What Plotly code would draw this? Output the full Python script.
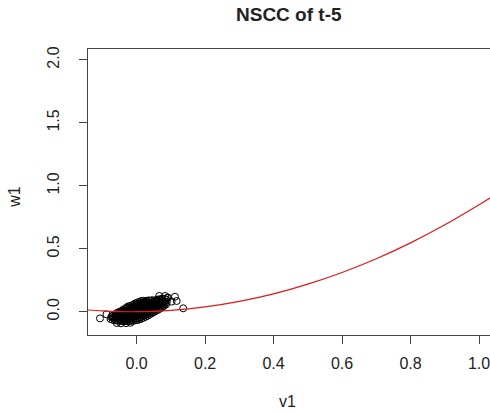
import plotly.graph_objects as go

# scatter data
v1 = [
    -0.076, -0.074,
    -0.070, -0.068, -0.069,
    -0.064, -0.062, -0.063, -0.061,
    -0.058, -0.056, -0.057, -0.055, -0.058,
    -0.052, -0.050, -0.051, -0.049, -0.052, -0.050,
    -0.046, -0.044, -0.045, -0.043, -0.046, -0.044,
    -0.040, -0.038, -0.039, -0.037, -0.040, -0.038, -0.039,
    -0.034, -0.032, -0.033, -0.031, -0.034, -0.032, -0.033, -0.031,
    -0.028, -0.026, -0.027, -0.025, -0.028, -0.026, -0.027, -0.025,
    -0.022, -0.020, -0.021, -0.019, -0.022, -0.020, -0.021, -0.019,
    -0.016, -0.014, -0.015, -0.013, -0.016, -0.014, -0.015, -0.013,
    -0.010, -0.008, -0.009, -0.007, -0.010, -0.008, -0.009, -0.007,
    -0.004, -0.002, -0.003, -0.001, -0.004, -0.002, -0.003, -0.001, -0.004,
    0.002, 0.004, 0.003, 0.005, 0.002, 0.004, 0.003, 0.005, 0.002,
    0.008, 0.010, 0.009, 0.011, 0.008, 0.010, 0.009, 0.011, 0.008,
    0.014, 0.016, 0.015, 0.017, 0.014, 0.016, 0.015, 0.017, 0.014,
    0.020, 0.022, 0.021, 0.023, 0.020, 0.022, 0.021, 0.023, 0.020,
    0.026, 0.028, 0.027, 0.029, 0.026, 0.028, 0.027, 0.029,
    0.032, 0.034, 0.033, 0.035, 0.032, 0.034, 0.033, 0.035,
    0.038, 0.040, 0.039, 0.041, 0.038, 0.040, 0.039,
    0.044, 0.046, 0.045, 0.047, 0.044, 0.046, 0.045,
    0.050, 0.052, 0.051, 0.053, 0.050, 0.052,
    0.056, 0.058, 0.057, 0.059, 0.056, 0.058,
    0.062, 0.064, 0.063, 0.065, 0.062, 0.064,
    0.068, 0.070, 0.069, 0.071, 0.068,
    0.074, 0.076, 0.075, 0.077, 0.074,
    0.080, 0.082, 0.081, 0.083,
    0.086, 0.088, 0.087, 0.089,
    -0.107, -0.088, -0.058, -0.046, -0.031, -0.018, 0.066, 0.083, 0.092,
    0.102, 0.112, 0.117, 0.136, 0.073,
]
w1 = [
    -0.058, -0.040,
    -0.064, -0.047, -0.030,
    -0.068, -0.052, -0.036, -0.022,
    -0.070, -0.055, -0.040, -0.024, -0.010,
    -0.072, -0.057, -0.041, -0.026, -0.011, 0.000,
    -0.073, -0.058, -0.043, -0.028, -0.012, 0.004,
    -0.074, -0.058, -0.042, -0.026, -0.010, 0.006, 0.017,
    -0.075, -0.060, -0.044, -0.028, -0.012, 0.004, 0.020, 0.030,
    -0.075, -0.058, -0.041, -0.024, -0.007, 0.010, 0.027, 0.042,
    -0.074, -0.057, -0.040, -0.023, -0.006, 0.011, 0.028, 0.046,
    -0.073, -0.056, -0.038, -0.020, -0.002, 0.016, 0.034, 0.052,
    -0.072, -0.054, -0.036, -0.018, 0.000, 0.018, 0.036, 0.058,
    -0.069, -0.051, -0.033, -0.015, 0.003, 0.021, 0.039, 0.057, 0.066,
    -0.066, -0.048, -0.030, -0.012, 0.006, 0.024, 0.042, 0.060, 0.072,
    -0.061, -0.043, -0.025, -0.007, 0.011, 0.029, 0.047, 0.065, 0.079,
    -0.056, -0.038, -0.020, -0.002, 0.016, 0.034, 0.052, 0.070, 0.085,
    -0.048, -0.030, -0.012, 0.006, 0.024, 0.042, 0.060, 0.078, 0.087,
    -0.040, -0.022, -0.004, 0.014, 0.032, 0.050, 0.068, 0.086,
    -0.032, -0.014, 0.004, 0.022, 0.040, 0.058, 0.076, 0.090,
    -0.022, -0.004, 0.014, 0.032, 0.050, 0.068, 0.086,
    -0.013, 0.005, 0.023, 0.041, 0.059, 0.077, 0.092,
    -0.003, 0.015, 0.033, 0.051, 0.069, 0.087,
    0.006, 0.024, 0.042, 0.060, 0.078, 0.094,
    0.014, 0.032, 0.050, 0.068, 0.086, 0.098,
    0.024, 0.042, 0.060, 0.078, 0.096,
    0.034, 0.052, 0.070, 0.088, 0.104,
    0.046, 0.064, 0.082, 0.100,
    0.058, 0.076, 0.094, 0.110,
    -0.053, -0.021, -0.090, -0.092, -0.091, -0.088, 0.125, 0.125, 0.112,
    0.080, 0.119, 0.085, 0.027, 0.090,
]

# red fitted curve
curve_x = [-0.15, -0.10, -0.05, 0.0, 0.1, 0.2, 0.3, 0.4, 0.5, 0.6, 0.7, 0.8, 0.9, 1.0, 1.05]
curve_y = [0.015, 0.006, 0.001, 0.0, 0.011, 0.038, 0.082, 0.142, 0.219, 0.312, 0.421, 0.547, 0.690, 0.850, 0.935]

x_ticks = [0.0, 0.2, 0.4, 0.6, 0.8, 1.0]
y_ticks = [0.0, 0.5, 1.0, 1.5, 2.0]

title_text = "NSCC of t-5"
x_label = "v1"
y_label = "w1"

FONT = "Liberation Sans, Arial, sans-serif"
INK = "#222222"

fig = go.Figure()
fig.add_trace(go.Scatter(
    x=v1, y=w1, mode="markers",
    marker=dict(symbol="circle-open", size=7, color="black", line=dict(width=1, color="black")),
    showlegend=False, hoverinfo="skip",
))
fig.add_trace(go.Scatter(
    x=curve_x, y=curve_y, mode="lines",
    line=dict(color="#e0181b", width=1.2, shape="spline"),
    showlegend=False, hoverinfo="skip",
))

fig.update_layout(
    width=490, height=412,
    margin=dict(l=88, r=0, t=49, b=77),
    paper_bgcolor="white", plot_bgcolor="white",
    font=dict(family=FONT, size=16, color=INK),
    xaxis=dict(
        range=[-0.142, 1.032], tickvals=x_ticks, tickformat=".1f",
        showgrid=False, zeroline=False, showline=True, mirror=True,
        linecolor="#444444", linewidth=1, ticks="outside", ticklen=8,
        tickcolor="#444444", tickfont=dict(size=16, color=INK, family=FONT),
        ticklabelstandoff=6, ticklabeloverflow="allow",
    ),
    yaxis=dict(
        range=[-0.185, 2.087], tickvals=y_ticks, tickformat=".1f",
        showgrid=False, zeroline=False, showline=True, mirror=False,
        linecolor="#444444", linewidth=1, ticks="outside", ticklen=8,
        tickcolor="#444444", tickangle=-90,
        tickfont=dict(size=16, color=INK, family=FONT),
        ticklabelstandoff=14,
    ),
    annotations=[
        dict(text="<b>" + title_text + "</b>", xref="paper", yref="paper",
             x=0.5, y=1.119, showarrow=False, font=dict(size=19, color=INK, family=FONT),
             xanchor="center", yanchor="middle"),
        dict(text=x_label, xref="paper", yref="paper", x=0.497, y=-0.231,
             showarrow=False, font=dict(size=16, color=INK, family=FONT),
             xanchor="center", yanchor="middle"),
        dict(text=y_label, xref="paper", yref="paper", x=-0.182, y=0.483,
             showarrow=False, textangle=-90, font=dict(size=16, color=INK, family=FONT),
             xanchor="center", yanchor="middle"),
    ],
)

fig.write_html("out.html")
